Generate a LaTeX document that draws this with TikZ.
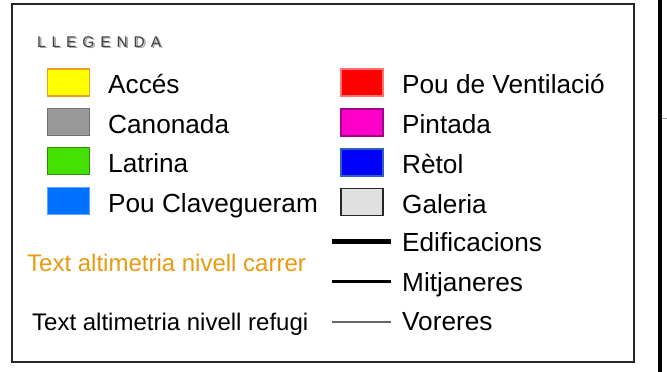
\documentclass[tikz,border=0pt]{standalone}
\usepackage{fontspec}
\setmainfont{Liberation Sans}
\definecolor{accesfill}{HTML}{FFFF00}
\definecolor{accesdraw}{HTML}{E8A020}
\definecolor{canfill}{HTML}{999999}
\definecolor{candraw}{HTML}{707070}
\definecolor{latfill}{HTML}{44E000}
\definecolor{latdraw}{HTML}{2E8A10}
\definecolor{poufill}{HTML}{0070FF}
\definecolor{poudraw}{HTML}{60A0FF}
\definecolor{ventfill}{HTML}{FF0000}
\definecolor{ventdraw}{HTML}{FF7070}
\definecolor{pintfill}{HTML}{FF00CC}
\definecolor{pintdraw}{HTML}{A0008A}
\definecolor{rotfill}{HTML}{0000FF}
\definecolor{rotdraw}{HTML}{2A60C0}
\definecolor{galfill}{HTML}{E0E0E0}
\definecolor{orangetxt}{HTML}{E89A10}
\begin{document}
\begin{tikzpicture}[x=1pt,y=-1pt,
  swatch/.style={minimum width=42pt,minimum height=27pt,inner sep=0pt,line width=1.2pt},
  lbl/.style={anchor=base west,inner sep=0pt,font=\fontsize{26.2}{28}\selectfont},
  small/.style={anchor=base west,inner sep=0pt,font=\fontsize{24}{26}\selectfont},
  titlefont/.style={anchor=base west,inner sep=0pt,font=\fontsize{15.5}{17}\selectfont\addfontfeature{LetterSpace=38}},
  legline/.style={line cap=butt}]
\useasboundingbox (0,0) rectangle (667,372);
\fill[white] (0,0) rectangle (667,372);
% frame
\draw[line width=1.6pt,black!85] (12,4) rectangle (634,362);
% right bar and tick
\coordinate (bartop) at (660,0); \coordinate (barbot) at (660,372);
\draw[line width=4.5pt,black] (bartop) -- (barbot);
\coordinate (tick1) at (662.3,118.7); \coordinate (tick2) at (667,118.7);
\draw[line width=1.2pt,gray!70] (tick1) -- (tick2);
% title
\node[titlefont,text=black!35] (titleshadow) at (38.6,48.4) {LLEGENDA};
\node[titlefont,text=black!75] (title) at (37,47) {LLEGENDA};
% left swatches
\node[swatch,fill=accesfill,draw=accesdraw] (sacc) at (68.5,82.5) {};
\node[swatch,fill=canfill,draw=candraw] (scan) at (68.5,122) {};
\node[swatch,fill=latfill,draw=latdraw] (slat) at (68.5,161) {};
\node[swatch,fill=poufill,draw=poudraw] (spou) at (68.5,201) {};
\node[lbl] (tacc) at (108,93) {Accés};
\node[lbl] (tcan) at (108,133) {Canonada};
\node[lbl] (tlat) at (108,172) {Latrina};
\node[lbl] (tpou) at (108,212) {Pou Clavegueram};
% right swatches
\node[swatch,fill=ventfill,draw=ventdraw] (svent) at (362,82.5) {};
\node[swatch,fill=pintfill,draw=pintdraw] (spint) at (362,122.5) {};
\node[swatch,fill=rotfill,draw=rotdraw] (srot) at (362,162.5) {};
\node[swatch,fill=galfill,draw=black!85] (sgal) at (362,202) {};
\node[lbl] (tvent) at (402,93) {Pou de Ventilació};
\node[lbl] (tpint) at (402,133) {Pintada};
\node[lbl] (trot) at (402,173) {Rètol};
\node[lbl] (tgal) at (402,213) {Galeria};
% lines
\coordinate (e1) at (332,241.7); \coordinate (e2) at (391,241.7);
\coordinate (m1) at (332,281.7); \coordinate (m2) at (391,281.7);
\coordinate (v1) at (332,321.7); \coordinate (v2) at (391,321.7);
\draw[legline,line width=4.5pt,black] (e1) -- (e2);
\draw[legline,line width=2.6pt,black] (m1) -- (m2);
\draw[legline,line width=1.8pt,black!60] (v1) -- (v2);
\node[lbl] (tedi) at (402,251.7) {Edificacions};
\node[lbl] (tmit) at (402,291.7) {Mitjaneres};
\node[lbl] (tvor) at (402,330.5) {Voreres};
% altimetry texts
\node[small,text=orangetxt] (tcarrer) at (27,271) {Text altimetria nivell carrer};
\node[small] (trefugi) at (32,330.5) {Text altimetria nivell refugi};
\end{tikzpicture}
\end{document}
